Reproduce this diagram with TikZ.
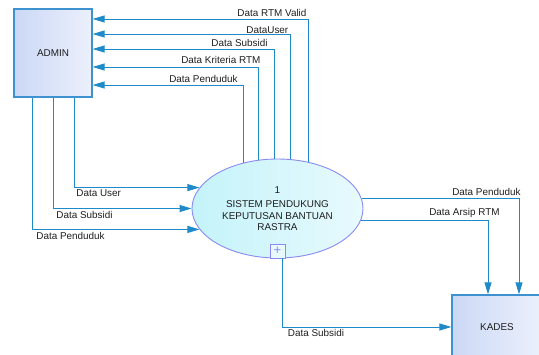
\documentclass[tikz,border=0pt]{standalone}
\usepackage{fontspec}
\setmainfont{Liberation Sans}
\usepackage{xcolor}
\usetikzlibrary{positioning, arrows.meta, shapes.geometric, calc}

\definecolor{flowblue}{RGB}{30,138,202}
\definecolor{entline}{RGB}{62,146,208}
\definecolor{entdark}{RGB}{203,216,245}
\definecolor{entlight}{RGB}{236,240,252}
\definecolor{procline}{RGB}{138,138,244}
\definecolor{procdark}{RGB}{196,243,250}
\definecolor{proclight}{RGB}{232,250,253}
\definecolor{txt}{RGB}{30,30,30}

\begin{document}
\begin{tikzpicture}[
    x=1pt, y=-1pt,
    every node/.style={font=\fontsize{9.9}{11.5}\selectfont, text=txt},
    entity/.style={draw=entline, line width=1.3pt, left color=entdark, right color=entlight, minimum width=#1, inner sep=0pt},
    process/.style={ellipse, draw=procline, line width=0.9pt, left color=procdark, right color=proclight, minimum width=171pt, minimum height=99pt, inner sep=0pt, align=center},
    plusbox/.style={draw=procline, line width=0.9pt, fill=proclight, minimum width=15pt, minimum height=14pt, inner sep=0pt, text=procline, font=\fontsize{13}{13}\selectfont},
    flow/.style={-{Triangle[length=12pt, width=7pt]}, draw=flowblue, line width=0.9pt},
    lbl/.style={inner sep=2pt},
  ]
  \useasboundingbox (0,0) rectangle (539,354);
  \clip (0,0) rectangle (539,354);

  % ---- entities and process ----
  \node[entity=78pt, minimum height=88pt] (admin) at (53,53) {ADMIN};
  \node[process] (proc) at (277.5,208.5) {1\\[3pt]SISTEM PENDUKUNG\\KEPUTUSAN BANTUAN\\RASTRA};
  \node[plusbox, anchor=south] (plus) at (proc.south) {+};
  \node[entity=90pt, minimum height=64pt] (kades) at (497,327) {KADES};

  % ---- process -> ADMIN ----
  \draw[flow] (proc.56.6) |- ([yshift=34pt]admin.east)
    node[pos=0.5, lbl, anchor=south east] {Data RTM Valid};
  \draw[flow] (proc.75.7) |- ([yshift=19pt]admin.east)
    node[pos=0.5, lbl, anchor=south east, yshift=-2.5pt] {DataUser};
  \draw[flow] (proc.94) |- ([yshift=4pt]admin.east)
    node[pos=0.5, lbl, anchor=south east, xshift=-4pt] {Data Subsidi};
  \draw[flow] (proc.111) |- ([yshift=-14pt]admin.east)
    node[pos=0.5, lbl, anchor=south east, xshift=4pt, yshift=1pt] {Data Kriteria RTM};
  \draw[flow] (proc.127.3) |- ([yshift=-32pt]admin.east)
    node[pos=0.5, lbl, anchor=south east, xshift=-3pt] {Data Penduduk};

  % ---- ADMIN -> process ----
  \draw[flow] ([xshift=21pt]admin.south) |- (proc.165)
    node[pos=0.5, lbl, anchor=north west] {Data User};
  \draw[flow] (admin.south) |- (proc.180)
    node[pos=0.5, lbl, anchor=north west, xshift=1pt] {Data Subsidi};
  \draw[flow] ([xshift=-21pt]admin.south) |- (proc.195.6)
    node[pos=0.5, lbl, anchor=north west, xshift=2pt] {Data Penduduk};

  % ---- process -> KADES ----
  \draw[flow] (proc.7.9) -| ([xshift=22pt]kades.north)
    node[pos=0.5, lbl, anchor=south east, xshift=4pt] {Data Penduduk};
  \draw[flow] (proc.-8.6) -| ([xshift=-9pt]kades.north)
    node[pos=0.5, lbl, anchor=south east, xshift=14pt] {Data Arsip RTM};
  \draw[flow] ([xshift=5pt]plus.south) |- (kades.west)
    node[pos=0.5, lbl, anchor=north west, xshift=3pt] {Data Subsidi};

\end{tikzpicture}
\end{document}
